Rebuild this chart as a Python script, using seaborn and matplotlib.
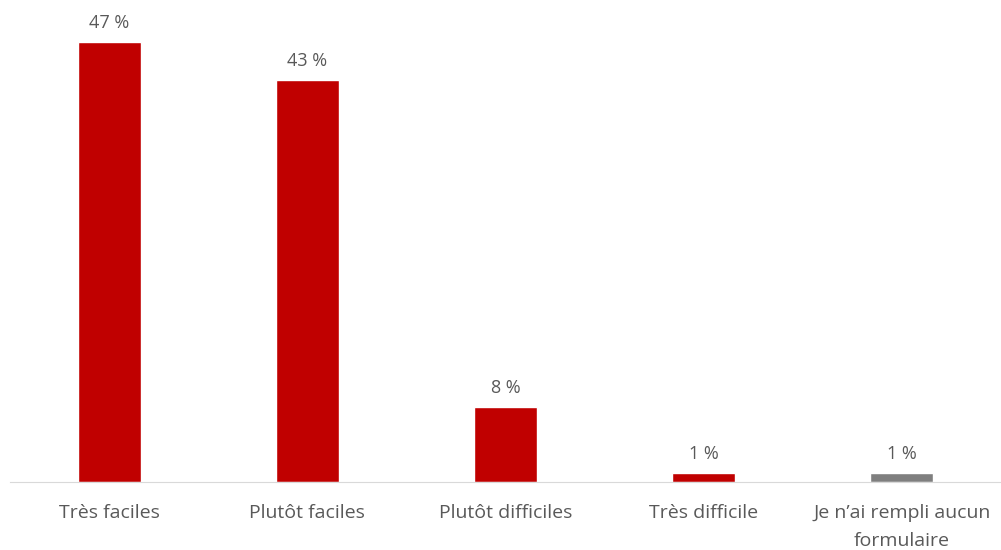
import matplotlib
matplotlib.use("Agg")
import matplotlib.pyplot as plt
import seaborn as sns
import pandas as pd

categories = ["Très faciles", "Plutôt faciles", "Plutôt difficiles", "Très difficile",
              "Je n’ai rempli aucun\nformulaire"]
values = [47, 43, 8, 1, 1]
value_labels = ["47 %", "43 %", "8 %", "1 %", "1 %"]
colors = ["#C00000", "#C00000", "#C00000", "#C00000", "#7F7F7F"]

sns.set_style("white")
plt.rcParams["font.family"] = ["Open Sans", "DejaVu Sans"]

df = pd.DataFrame({"cat": categories, "val": values})

fig = plt.figure(figsize=(10.01, 5.5), dpi=100)
ax = fig.add_axes([10 / 1001, 68 / 550, 991 / 1001, 468 / 550])

sns.barplot(data=df, x="cat", y="val", hue="cat", palette=colors, legend=False,
            width=0.317, ax=ax, saturation=1)

ax.set_ylim(0, 50)
ax.set_xlim(-0.5, len(categories) - 0.5)
ax.set_xlabel("")
ax.set_ylabel("")
ax.set_yticks([])
for s in ["top", "right", "left"]:
    ax.spines[s].set_visible(False)
ax.spines["bottom"].set_color("#D9D9D9")
ax.spines["bottom"].set_linewidth(0.8)

ax.tick_params(axis="x", length=0, pad=16, labelsize=14, labelcolor="#595959")
for lbl in ax.get_xticklabels():
    lbl.set_verticalalignment("top")
    lbl.set_linespacing(1.72)

for i, (v, t) in enumerate(zip(values, value_labels)):
    ax.annotate(t, (i, v), xytext=(0, 10), textcoords="offset points",
                ha="center", va="baseline", fontsize=13, color="#595959")

fig.savefig("out.png", dpi=100)
